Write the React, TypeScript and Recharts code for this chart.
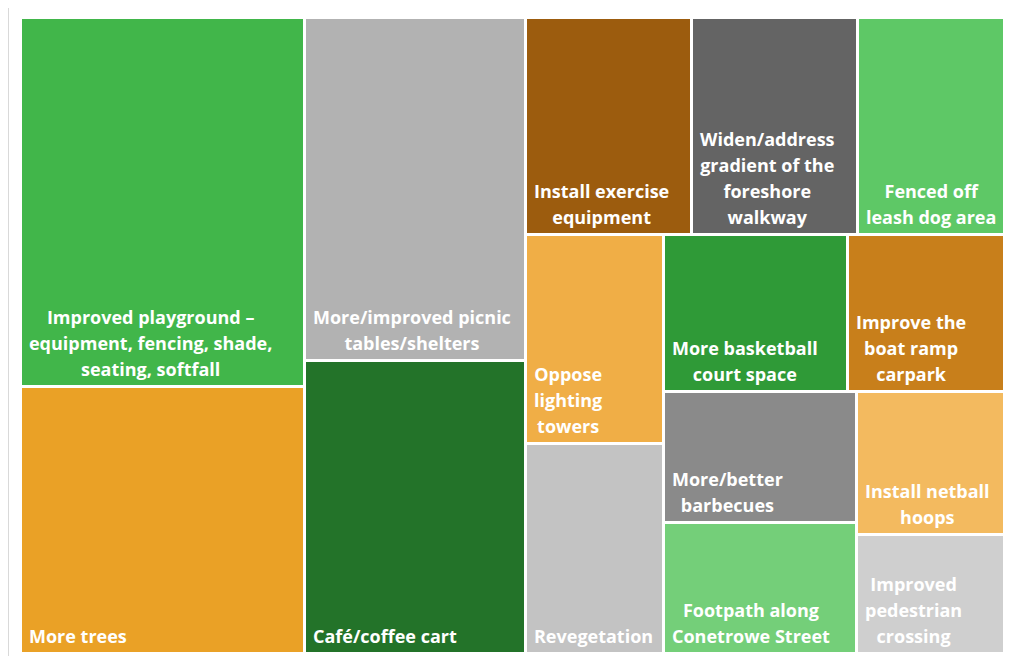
import { Treemap } from 'recharts'

const suggestions = [
  'Improved playground – equipment, fencing, shade, seating, softfall',
  'More trees',
  'More/improved picnic tables/shelters',
  'Café/coffee cart',
  'Install exercise equipment',
  'Widen/address gradient of the foreshore walkway',
  'Fenced off leash dog area',
  'Oppose lighting towers',
  'Revegetation',
  'More basketball court space',
  'Improve the boat ramp carpark',
  'More/better barbecues',
  'Footpath along Conetrowe Street',
  'Install netball hoops',
  'Improved pedestrian crossing',
]

const responses = [58, 42, 42, 36, 20, 20, 18, 16, 16, 16, 14, 14, 14, 12, 10]

const tileColors = [
  '#41b64a', '#eaa126', '#b2b2b2', '#237329', '#9c5c0e',
  '#646464', '#5ec866', '#f0ae46', '#c3c3c3', '#2f9a37',
  '#c87f1b', '#8a8a8a', '#74cf79', '#f3ba5f', '#cfcfcf',
]

const data = suggestions.map((name, i) => ({ name, value: responses[i] }))

const FONT_SIZE = 18
const LINE_HEIGHT = 26
const FONT = `bold ${FONT_SIZE}px "Open Sans"`

const ctx = document.createElement('canvas').getContext('2d')

function textWidth(s: string) {
  if (!ctx) return s.length * FONT_SIZE * 0.55
  ctx.font = FONT
  return ctx.measureText(s).width
}

function wrap(text: string, maxWidth: number) {
  const lines: string[] = []
  let current = ''
  for (const word of text.split(' ')) {
    const next = current ? current + ' ' + word : word
    if (current && textWidth(next) > maxWidth) {
      lines.push(current)
      current = word
    } else {
      current = next
    }
  }
  if (current) lines.push(current)
  return lines
}

function Tile(props: any) {
  const { x, y, width, height, depth, index, name } = props
  if (depth !== 1) return <g />

  const lines = wrap(name, width - 12)
  const blockWidth = Math.max(...lines.map(textWidth))
  const cx = x + 8 + blockWidth / 2
  const lastBaseline = y + height - 11

  return (
    <g>
      <rect x={x + 1} y={y + 1} width={width - 3} height={height - 3} fill={tileColors[index]} />
      <text
        textAnchor="middle"
        fill="#fff"
        fontFamily='"Open Sans", sans-serif'
        fontWeight="bold"
        fontSize={FONT_SIZE}
      >
        {lines.map((line, i) => (
          <tspan key={i} x={cx} y={lastBaseline - (lines.length - 1 - i) * LINE_HEIGHT}>
            {line}
          </tspan>
        ))}
      </text>
    </g>
  )
}

export default function App() {
  return (
    <div style={{ position: 'relative', width: 995, height: 648 }}>
      <div
        style={{
          position: 'absolute', left: 0, top: -3, width: 1000, height: 656,
          border: '1px solid #d9d9d9', boxSizing: 'content-box',
        }}
      />
      <div style={{ position: 'absolute', left: 13, top: 10 }}>
        <Treemap
          width={988}
          height={636}
          data={data}
          dataKey="value"
          nameKey="name"
          aspectRatio={0.97}
          isAnimationActive={false}
          content={<Tile />}
        />
      </div>
    </div>
  )
}
